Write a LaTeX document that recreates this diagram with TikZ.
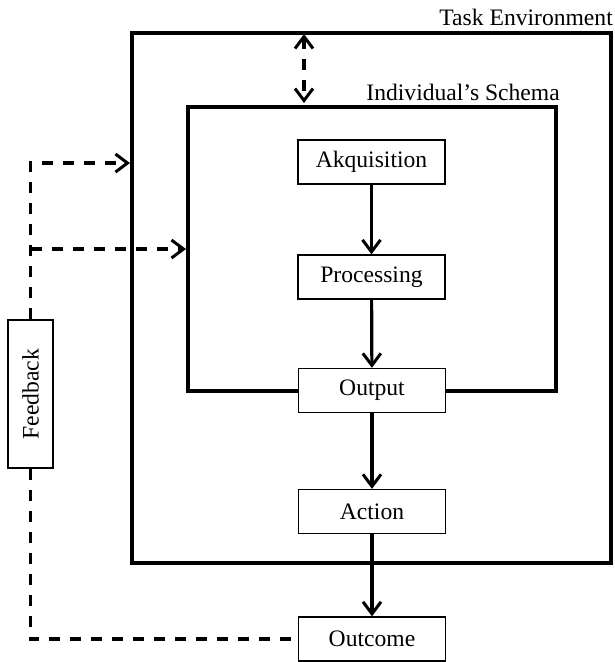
\documentclass[tikz,border=0pt]{standalone}
\usepackage{fontspec}
\setmainfont{Liberation Serif}
\usetikzlibrary{arrows.meta}
\tikzset{barb/.tip={Straight Barb[length=12pt,width=18pt,line width=3pt]}}
\begin{document}
\begin{tikzpicture}[x=1pt,y=-1pt,
  txt/.style={font=\fontsize{23.6}{28}\selectfont},
  box/.style={txt, draw, line width=1.3pt, fill=white, minimum width=147pt, minimum height=44pt, inner sep=0pt},
  frame/.style={draw, line width=4pt, inner sep=0pt},
  flow/.style={line width=3.2pt, -{barb}},
  fbline/.style={line width=3.3pt, dash pattern=on 11pt off 10pt}
]
\useasboundingbox (0,0) rectangle (615,662);
% frames
\node[frame, minimum width=479pt, minimum height=530pt] (env) at (371.5,298) {};
\node[frame, minimum width=368pt, minimum height=284pt] (schema) at (372,249) {};
\node[txt, anchor=base east, inner sep=0pt] (envlabel) at (613,25) {Task Environment};
\node[txt, anchor=base east, inner sep=0pt] (schemalabel) at (560,100) {Individual’s Schema};
% boxes
\node[box] (akq) at (371.5,162) {Akquisition};
\node[box] (proc) at (371.5,277) {Processing};
\node[box] (outp) at (372,390.5) {Output};
\node[box] (act) at (372,511.5) {Action};
\node[box] (outc) at (372,639) {Outcome};
\node[box, minimum width=45pt, minimum height=148pt] (fb) at (30.5,394) {\rotatebox{90}{Feedback}};
% flow arrows
\draw[flow] (akq) -- (proc);
\draw[flow] (proc) -- (outp);
\draw[flow] (outp) -- (act);
\draw[flow] (act) -- (outc);
% feedback dashed lines
\coordinate (c1) at (30.5,163);
\coordinate (c2) at (30.5,249);
\draw[fbline, -{barb}] (fb.north) -- (c1) -- (env.west |- c1);
\draw[fbline, -{barb}] (c2) -- (schema.west |- c2);
\draw[fbline] (fb.south) |- (outc.west);
% top double arrow
\coordinate (d) at (304,0);
\draw[fbline, {barb}-{barb}, shorten <=3pt, shorten >=2pt] (env.north -| d) -- (schema.north -| d);
\end{tikzpicture}
\end{document}
